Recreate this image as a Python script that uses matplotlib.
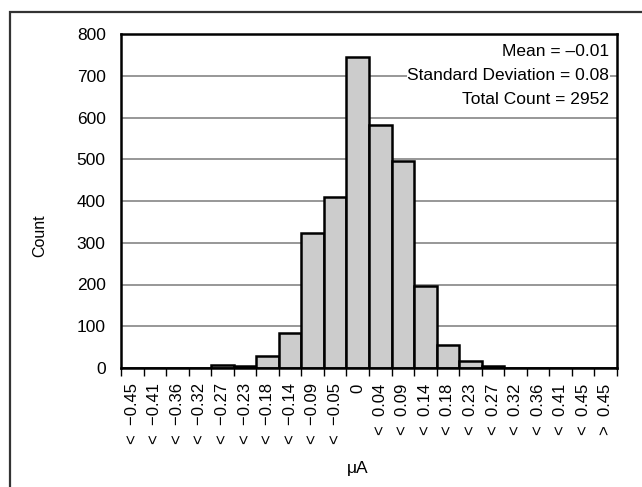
import matplotlib
matplotlib.use("Agg")
import matplotlib.pyplot as plt
from matplotlib.patches import Rectangle

plt.rcParams['font.family'] = ['Liberation Sans', 'DejaVu Sans']

# histogram bins (upper edges) and counts
bin_labels = ["< \u22120.45", "< \u22120.41", "< \u22120.36", "< \u22120.32", "< \u22120.27",
              "< \u22120.23", "< \u22120.18", "< \u22120.14", "< \u22120.09", "< \u22120.05",
              "0",
              "< 0.04", "< 0.09", "< 0.14", "< 0.18", "< 0.23", "< 0.27", "< 0.32",
              "< 0.36", "< 0.41", "< 0.45", "> 0.45"]
counts = [0, 0, 0, 0, 6, 4, 28, 84, 323, 410, 745, 582, 497, 197, 56, 17, 4, 1, 0, 0, 0, 0]
y_ticks = [0, 100, 200, 300, 400, 500, 600, 700, 800]
stats_lines = ["Mean = \u20130.01", "Standard Deviation = 0.08", "Total Count = 2952"]

W, H = 642, 487
fig = plt.figure(figsize=(W / 100, H / 100), dpi=100)
ax = fig.add_axes([121 / W, 1 - 368 / H, 496 / W, (368 - 34) / H])

x = list(range(len(counts)))
ax.bar(x, counts, width=1.0, color='#cccccc', edgecolor='black', linewidth=1.8, zorder=3)

ax.set_xlim(-0.5, len(counts) - 0.5)
ax.set_ylim(0, 800)
ax.set_yticks(y_ticks)
ax.yaxis.grid(True, color='#7a7a7a', linewidth=1.1, zorder=0)
ax.set_axisbelow(True)

# labels centred on bars, tick marks at bin edges
label_text = [s.replace("< ", "<  ").replace("> ", ">  ") for s in bin_labels]
ax.set_xticks(x)
ax.set_xticklabels(label_text, rotation=90, fontsize=12, va='top', ha='center')
ax.set_xticks([i - 0.5 for i in range(len(counts) + 1)], minor=True)
ax.tick_params(axis='x', which='major', length=0, pad=11)
ax.tick_params(axis='x', which='minor', length=6, width=1.0, color='black')
ax.tick_params(axis='y', length=0, pad=11, labelsize=12.5)

for sp in ax.spines.values():
    sp.set_linewidth(1.8)
    sp.set_color('black')
    sp.set_zorder(4)

# stats block, one line at a time on a white patch over the grid
for yy, line in zip([52, 75.5, 99], stats_lines):
    fig.text(609 / W, 1 - yy / H, line, ha='right', va='center', fontsize=12.5, zorder=5,
             bbox=dict(facecolor='white', edgecolor='none', pad=0.4))

fig.text(358 / W, 1 - 468 / H, "\u03bcA", ha='center', va='center', fontsize=12.5)
fig.text(40 / W, 1 - 236 / H, "Count", ha='center', va='center', rotation=90, fontsize=11.5)

# outer frame around the whole figure (runs off the right and bottom)
fig.patches.append(Rectangle((10 / W, -0.1), 1.2, 1 - 12 / H + 0.1, transform=fig.transFigure,
                             fill=False, edgecolor='#333333', linewidth=1.6, clip_on=False))

fig.savefig("out.png", dpi=100)
